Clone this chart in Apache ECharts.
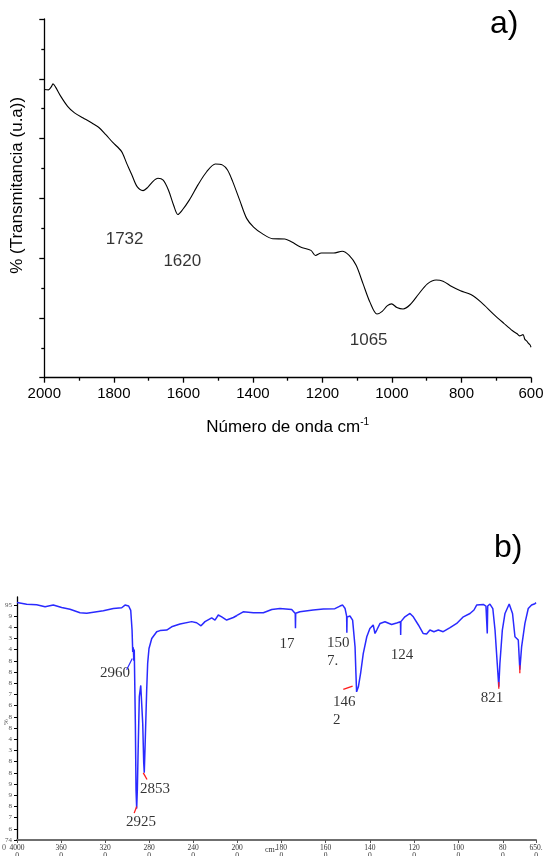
<!DOCTYPE html>
<html>
<head>
<meta charset="utf-8">
<script src="https://cdn.jsdelivr.net/npm/echarts@6/dist/echarts.min.js"></script>
<style>
  html, body { margin: 0; padding: 0; background: #fff; }
  #chart { width: 543px; height: 856px; }
</style>
</head>
<body>
<div id="chart"></div>
<script>
// panel a) : [wavenumber, transmitance (u.a)]
const specA = [
  [2000, 9.64], [1988, 9.63], [1980, 9.73], [1975, 9.83], [1968, 9.73], [1953, 9.42],
  [1933, 9.08], [1913, 8.86], [1888, 8.69], [1863, 8.52], [1843, 8.37], [1823, 8.13],
  [1803, 7.87], [1778, 7.57], [1763, 7.17], [1748, 6.78], [1733, 6.39], [1716, 6.26],
  [1703, 6.36], [1688, 6.56], [1673, 6.67], [1658, 6.61], [1643, 6.28], [1628, 5.77],
  [1616, 5.46], [1603, 5.61], [1583, 5.94], [1558, 6.45], [1533, 6.89], [1508, 7.15],
  [1488, 7.12], [1473, 6.95], [1458, 6.56], [1438, 5.94], [1418, 5.33], [1398, 5.04],
  [1373, 4.82], [1343, 4.65], [1308, 4.64], [1288, 4.54], [1263, 4.37], [1233, 4.26],
  [1220, 4.09], [1203, 4.17], [1168, 4.17], [1143, 4.23], [1123, 4.09], [1103, 3.76],
  [1083, 3.14], [1063, 2.52], [1043, 2.13], [1028, 2.22], [1013, 2.41], [1001, 2.47],
  [986, 2.35], [968, 2.30], [948, 2.44], [923, 2.80], [898, 3.14], [873, 3.27],
  [853, 3.23], [828, 3.05], [803, 2.91], [773, 2.78], [743, 2.52], [708, 2.13],
  [678, 1.82], [653, 1.57], [640, 1.47], [633, 1.40], [623, 1.44], [618, 1.29],
  [612, 1.22], [608, 1.16], [603, 1.10], [600, 1.02]
];
const peaksA = [[1769, 4.64, '1732'], [1603, 3.9, '1620'], [1067, 1.26, '1065']];

// panel b) : [wavenumber, %T]
const specB = [
  [4000, 95.2], [3912, 95.05], [3821, 95.0], [3745, 94.83], [3670, 94.98], [3594, 94.76],
  [3518, 94.6], [3427, 94.29], [3366, 94.24], [3275, 94.38], [3215, 94.47], [3124, 94.67],
  [3048, 94.74], [3018, 94.98], [3003, 95.1], [2985, 94.9], [2966, 94.5], [2954, 92.75],
  [2948, 90.8], [2943, 91.2], [2938, 90.0], [2934, 91.0], [2924, 84.4], [2918, 78.5],
  [2912, 76.8], [2906, 78.5], [2900, 81.4], [2888, 86.8], [2875, 87.8], [2863, 87.75],
  [2857, 84.4], [2848, 80.9], [2843, 80.0], [2834, 82.9], [2821, 87.4], [2812, 89.8],
  [2800, 91.1], [2775, 92.0], [2730, 92.6], [2700, 92.7], [2639, 92.75], [2594, 93.04],
  [2518, 93.29], [2412, 93.5], [2367, 93.4], [2327, 93.13], [2291, 93.5], [2230, 93.84],
  [2200, 93.64], [2170, 94.09], [2139, 93.93], [2094, 93.64], [2033, 93.87], [2000, 94.05],
  [1994, 94.18], [1972, 94.38], [1926, 94.29], [1881, 94.29], [1843, 94.58], [1806, 94.67],
  [1753, 94.58], [1737, 94.23], [1736, 92.9], [1735, 94.25], [1716, 94.38], [1656, 94.54],
  [1610, 94.63], [1558, 94.66], [1535, 94.89], [1523, 94.98], [1512, 94.67], [1505, 94.0],
  [1504, 92.5], [1503, 93.9], [1497, 93.78], [1490, 94.0], [1478, 93.64], [1467, 91.25],
  [1463, 88.87], [1460, 87.23], [1452, 87.68], [1442, 88.87], [1430, 90.65], [1414, 92.15],
  [1400, 92.89], [1385, 93.2], [1377, 92.44], [1369, 92.75], [1354, 93.34], [1332, 93.49],
  [1302, 93.24], [1279, 93.38], [1262, 93.49], [1261, 92.3], [1260, 93.5], [1242, 93.93],
  [1219, 94.23], [1204, 93.93], [1181, 93.2], [1159, 92.44], [1144, 92.4], [1129, 92.75],
  [1111, 92.6], [1091, 92.75], [1069, 92.6], [1038, 92.96], [1008, 93.34], [978, 93.93],
  [948, 94.23], [930, 94.54], [918, 94.98], [888, 95.04], [876, 94.89], [871, 94.8],
  [870, 92.44], [868, 94.9], [865, 94.98], [858, 95.07], [845, 94.67], [835, 92.75],
  [825, 89.76], [818, 87.68], [813, 89.76], [802, 92.75], [790, 94.23], [771, 95.07],
  [756, 94.23], [745, 92.15], [738, 92.0], [730, 91.86], [723, 89.2], [715, 91.25],
  [700, 93.34], [685, 94.67], [670, 94.98], [664, 94.9], [655, 95.1], [650, 95.2]
];
const peaksB = [
  [3109, 88.9, '2960'], [2745, 78.55, '2853'], [2873, 75.6, '2925'],
  [1774, 91.5, '17'], [1594, 90.8, '150\n7.'], [1567, 85.5, '146\n2'],
  [1255, 90.5, '124'], [849, 86.7, '821']
];
const redMarksB = [
  [[2935, 76.4], [2912, 77.0]],
  [[2852, 80.0], [2818, 79.4]],
  [[1520, 87.45], [1478, 87.75]],
  [[818, 88.1], [818, 87.5]],
  [[723, 89.6], [723, 88.9]]
];
const leaderB = [[3003, 89.2], [2952, 90.2]];
const xTicksBLeft = [4000, 3600, 3200, 2800, 2400, 2000];
const xTicksBRight = [2000, 1800, 1600, 1400, 1200, 1000, 800, 650];
const xLabelsB = ['4000\n0', '360\n0', '320\n0', '280\n0', '240\n0', '200\n0',
  '180\n0', '160\n0', '140\n0', '120\n0', '100\n0', '80\n0', '650.\n0'];
const yTicksB = [74, 75, 76, 77, 78, 79, 80, 81, 82, 83, 84, 85, 86, 87, 88, 89, 90, 91, 92, 93, 94, 95];
const yLabelsB = ['74', '6', '7', '8', '9', '9', '8', '8', '3', '4', '8', '8', '6', '7', '8', '8', '8', '4', '3', '4', '9', '95'];

const labelOfB = {};
xTicksBLeft.concat(xTicksBRight.slice(1)).forEach((v, i) => { labelOfB[v] = xLabelsB[i]; });
const yLabelOfB = {};
yTicksB.forEach((v, i) => { yLabelOfB[v] = yLabelsB[i]; });

const sans = 'Liberation Sans';
const serif = 'Liberation Serif';
const blue = '#2a2aff';

const chart = echarts.init(document.getElementById('chart'));

const bAxisX = (min, max, ticks, gi) => ({
  type: 'value', gridIndex: gi, min: min, max: max, inverse: true,
  axisLine: { onZero: false, lineStyle: { color: '#6f6f6f', width: 2 } },
  axisTick: { customValues: ticks, length: 3, lineStyle: { color: '#555' } },
  axisLabel: {
    customValues: gi === 1 ? ticks.filter(v => v !== 2000) : ticks,
    margin: 4, fontFamily: serif, fontSize: 7.5, lineHeight: 8,
    color: '#333', formatter: (v) => labelOfB[v] || '', hideOverlap: false
  },
  splitLine: { show: false }
});

chart.setOption({
  animation: false,
  grid: [
    { left: 44.3, top: 19, width: 486.7, height: 358.7, outerBoundsMode: 'none' },
    { left: 17, top: 597, width: 220, height: 243, outerBoundsMode: 'none' },
    { left: 237, top: 597, width: 299, height: 243, outerBoundsMode: 'none' }
  ],
  xAxis: [
    {
      type: 'value', gridIndex: 0, min: 600, max: 2000, inverse: true, interval: 200,
      name: 'Número de onda cm{sup|-1}', nameLocation: 'middle', nameGap: 40,
      nameTextStyle: {
        fontFamily: sans, fontSize: 17, color: '#000',
        rich: { sup: { fontFamily: sans, fontSize: 10, verticalAlign: 'top', padding: [0, 0, 10, 0] } }
      },
      axisLine: { onZero: false, lineStyle: { color: '#000', width: 1.3 } },
      axisTick: { length: 5, lineStyle: { color: '#000', width: 1.3 } },
      minorTick: { show: true, splitNumber: 2, length: 3, lineStyle: { color: '#000', width: 1.3 } },
      axisLabel: { fontFamily: sans, fontSize: 15, color: '#000', margin: 9, formatter: (v) => String(v) },
      splitLine: { show: false }
    },
    bAxisX(2000, 4000, xTicksBLeft, 1),
    bAxisX(650, 2000, xTicksBRight, 2)
  ],
  yAxis: [
    {
      type: 'value', gridIndex: 0, min: 0, max: 12, interval: 2,
      name: '% (Transmitancia (u.a))', nameLocation: 'middle', nameGap: 18,
      nameTextStyle: { fontFamily: sans, fontSize: 17, color: '#000', padding: [0, 0, 0, 26] },
      axisLine: { show: true, onZero: false, lineStyle: { color: '#000', width: 1.3 } },
      axisTick: { show: true, length: 5, lineStyle: { color: '#000', width: 1.3 } },
      minorTick: { show: true, splitNumber: 2, length: 3, lineStyle: { color: '#000', width: 1.3 } },
      axisLabel: { show: false },
      splitLine: { show: false }
    },
    {
      type: 'value', gridIndex: 1, min: 74, max: 95.7,
      axisLine: { show: true, onZero: false, lineStyle: { color: '#000', width: 1.3 } },
      axisTick: { show: true, customValues: yTicksB, length: 3, lineStyle: { color: '#000' } },
      axisLabel: {
        customValues: yTicksB, margin: 5, fontFamily: serif, fontSize: 7, color: '#555',
        formatter: (v) => yLabelOfB[v] || ''
      },
      splitLine: { show: false }
    },
    {
      type: 'value', gridIndex: 2, min: 74, max: 95.7,
      axisLine: { show: false }, axisTick: { show: false }, axisLabel: { show: false },
      splitLine: { show: false }
    }
  ],
  series: [
    {
      type: 'line', xAxisIndex: 0, yAxisIndex: 0, data: specA, showSymbol: false, smooth: 0.3,
      lineStyle: { color: '#000', width: 1.1 }
    },
    {
      type: 'scatter', xAxisIndex: 0, yAxisIndex: 0, symbolSize: 0,
      data: peaksA.map(p => ({ value: [p[0], p[1]], label: { formatter: p[2] } })),
      label: { show: true, position: 'inside', fontFamily: sans, fontSize: 17, color: '#000' }
    },
    {
      type: 'line', xAxisIndex: 1, yAxisIndex: 1, showSymbol: false,
      data: specB.filter(p => p[0] >= 2000),
      lineStyle: { color: blue, width: 1.5 }
    },
    {
      type: 'line', xAxisIndex: 2, yAxisIndex: 2, showSymbol: false,
      data: specB.filter(p => p[0] <= 2000),
      lineStyle: { color: blue, width: 1.5 }
    },
    {
      type: 'line', xAxisIndex: 1, yAxisIndex: 1, showSymbol: false, data: leaderB,
      lineStyle: { color: blue, width: 1.2 }
    }
  ].concat(redMarksB.map(seg => ({
    type: 'line', xAxisIndex: seg[0][0] > 2000 ? 1 : 2, yAxisIndex: seg[0][0] > 2000 ? 1 : 2,
    showSymbol: false, data: seg, lineStyle: { color: '#ff1a1a', width: 1.3 }
  }))).concat([
    {
      type: 'scatter', xAxisIndex: 1, yAxisIndex: 1, symbolSize: 0,
      data: peaksB.filter(p => p[0] > 2000).map(p => ({ value: [p[0], p[1]], label: { formatter: p[2] } })),
      label: { show: true, position: 'inside', fontFamily: serif, fontSize: 15, color: '#000' }
    },
    {
      type: 'scatter', xAxisIndex: 2, yAxisIndex: 2, symbolSize: 0,
      data: peaksB.filter(p => p[0] <= 2000).map(p => ({
        value: [p[0], p[1]],
        label: p[2].indexOf('\n') > 0
          ? { formatter: p[2], align: 'left', position: 'right', distance: 0, lineHeight: 18 }
          : { formatter: p[2] }
      })),
      label: { show: true, position: 'inside', fontFamily: serif, fontSize: 15, color: '#000' }
    }
  ]),
  graphic: [
    { type: 'text', left: 490, top: 8, style: { text: 'a)', font: '32px "Liberation Sans"', fill: '#000' } },
    { type: 'text', left: 494, top: 532, style: { text: 'b)', font: '32px "Liberation Sans"', fill: '#000' } },
    { type: 'text', left: 265, top: 846, style: { text: 'cm-', font: '8px "Liberation Serif"', fill: '#333' } },
    { type: 'text', left: 2, top: 844, style: { text: '0', font: '8px "Liberation Serif"', fill: '#555' } },
    { type: 'text', x: 3, y: 725, rotation: Math.PI / 2, style: { text: '%', font: '7px "Liberation Serif"', fill: '#555' } }
  ]
});
</script>
</body>
</html>
